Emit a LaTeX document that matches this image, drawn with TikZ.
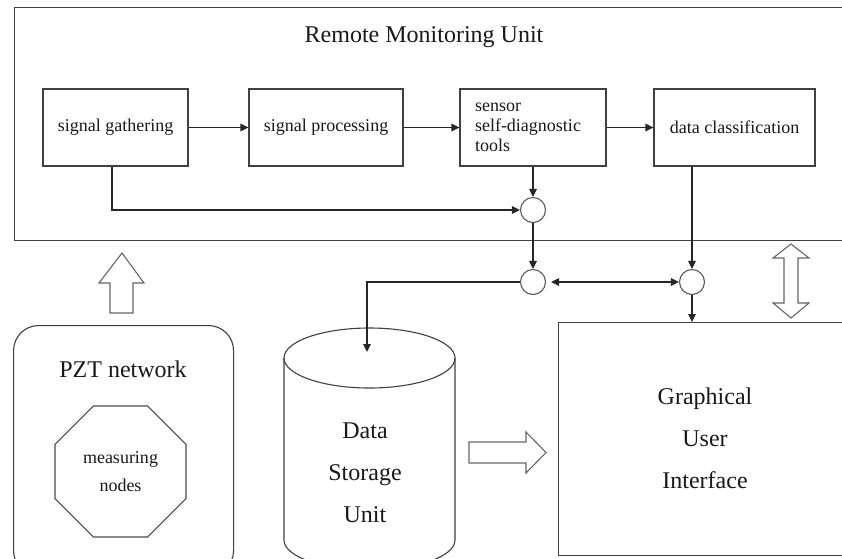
\documentclass[tikz,border=0pt]{standalone}
\usepackage{fontspec}
\setmainfont{Liberation Serif}
\usetikzlibrary{shapes.geometric,arrows.meta}
\begin{document}
\begin{tikzpicture}[x=1pt,y=-1pt,
  frame/.style={draw=black!75, line width=1.1pt, inner sep=0pt},
  box/.style={frame, rectangle, minimum height=77pt, font=\fontsize{18}{20}\selectfont, text=black!90, align=center},
  junction/.style={draw=black!65, line width=1.1pt, circle, minimum size=25pt, inner sep=0pt},
  tip/.style={Triangle[length=8pt,width=7.5pt]},
  flow/.style={draw=black!85, line width=1.1pt, -{Triangle[length=8pt,width=7.5pt]}},
  bigtext/.style={font=\fontsize{24}{42}\selectfont, align=center, text=black!90, inner sep=0pt},
  hollow/.style={draw=black!60, line width=1.1pt, fill=white, line join=miter}
]
\clip (0,0) rectangle (842,558);
\fill[white] (0,0) rectangle (842,558);

% Remote monitoring unit frame
\node[frame, rectangle, minimum width=860pt, minimum height=233pt, anchor=north west] (rmu) at (14,7) {};
\node[bigtext] (title) at (424,37) {Remote Monitoring Unit};

% processing chain
\node[box, minimum width=145pt] (sg) at (115.5,127.5) {signal gathering};
\node[box, minimum width=154pt] (sp) at (326,127.5) {signal processing};
\node[box, minimum width=146pt, text width=116pt, align=left] (sd) at (533,127.5) {sensor\\self-diagnostic\\tools};
\node[box, minimum width=161pt] (dc) at (734.5,127.5) {data classification};

\draw[flow] (sg.east) -- (sp.west);
\draw[flow] (sp.east) -- (sd.west);
\draw[flow] (sd.east) -- (dc.west);

% junctions
\node[junction] (c1) at (533,210) {};
\node[junction] (c2) at (533,282) {};
\node[junction] (c3) at (692,282) {};

\draw[flow] ([xshift=-3.5pt]sg.south) |- (c1.west);
\draw[flow] (sd.south) -- (c1.north);
\draw[flow] (c1.south) -- (c2.north);
\draw[flow] (dc.south -| c3.north) -- (c3.north);
\draw[draw=black!85, line width=1.1pt, {Triangle[length=8pt,width=7.5pt]}-{Triangle[length=8pt,width=7.5pt]}, shorten <=5pt] (c2.east) -- (c3.west);

% GUI
\node[frame, rectangle, minimum width=300pt, minimum height=233pt, anchor=north west] (gui) at (558,322) {};
\node[bigtext] (guitext) at (705,438) {Graphical\\User\\Interface};
\draw[flow] (c3.south) -- (gui.north -| c3.south);

% Data storage cylinder
\draw[draw=black!75, line width=1.1pt, fill=white] (284,358) -- (284,540) arc[start angle=180, end angle=360, x radius=85.5pt, y radius=30pt] -- (455,358);
\draw[draw=black!75, line width=1.1pt] (369.5,358) ellipse [x radius=85.5pt, y radius=30pt];
\coordinate (dstop) at (367,352);
\node[bigtext] (dstext) at (365,473) {Data\\Storage\\Unit};
\draw[flow] (c2.west) -| (dstop);

% PZT network
\node[frame, rectangle, rounded corners=25pt, minimum width=220pt, minimum height=250pt, anchor=north west] (pzt) at (13,325) {};
\node[bigtext] (pzttext) at (123,369) {PZT network};
\node[draw=black!70, line width=1.1pt, regular polygon, regular polygon sides=8, minimum size=141.8pt, inner sep=0pt,
      font=\fontsize{18}{28}\selectfont, align=center, text=black!90] (meas) at (120.5,471.5) {measuring\\nodes};

% block arrows
\draw[hollow] (122,253) -- (144,283) -- (133,283) -- (133,313) -- (110,313) -- (110,283) -- (99,283) -- cycle;
\draw[hollow] (469,442) -- (526,442) -- (526,432) -- (546,452.5) -- (526,473) -- (526,463) -- (469,463) -- cycle;
\draw[hollow] (791,244) -- (809,258) -- (798,258) -- (798,303) -- (809,303) -- (791,318) -- (773,303) -- (784,303) -- (784,258) -- (773,258) -- cycle;
\end{tikzpicture}
\end{document}
